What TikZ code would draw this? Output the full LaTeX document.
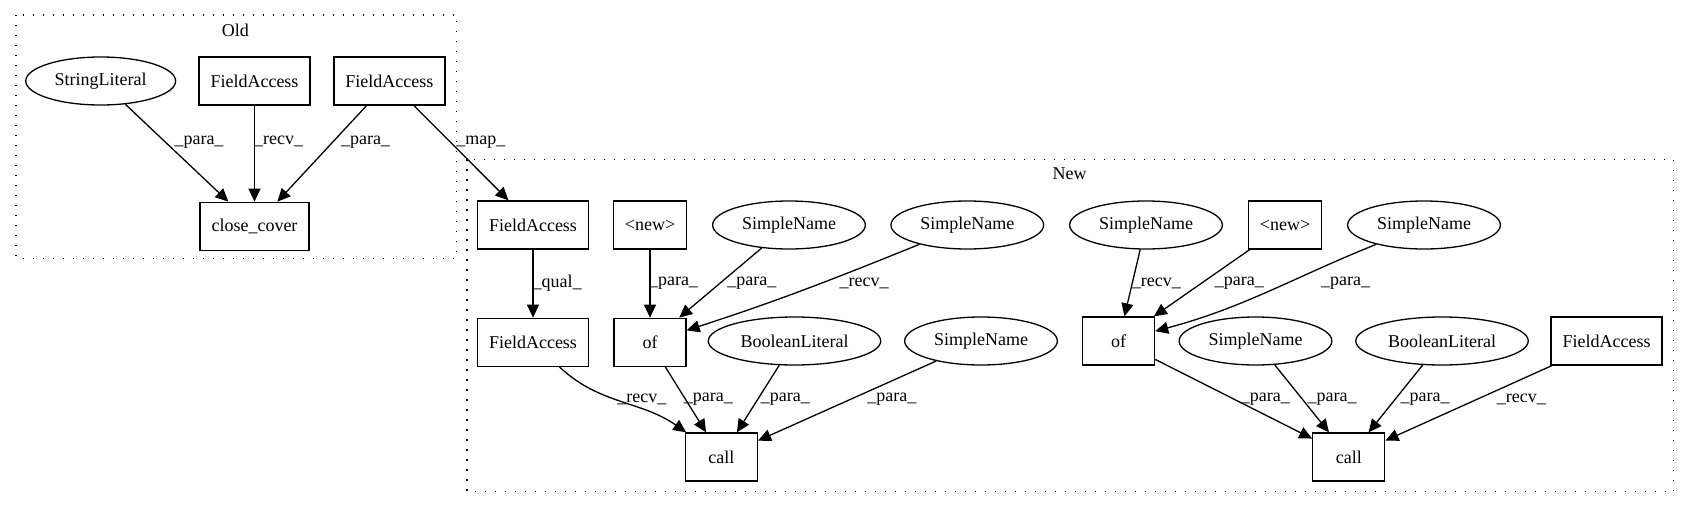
\documentclass[tikz,border=0pt]{standalone}
\usepackage{fontspec}
\setmainfont{Liberation Serif}
\usepackage{tikz}
\usetikzlibrary{arrows.meta,positioning,shapes.geometric}

\begin{document}
\begin{tikzpicture}[
  x=1pt,y=-1pt,
  line width=1.3pt,
  font=\fontsize{18}{21}\selectfont,
  node distance=68pt,
  box/.style={draw,rectangle,inner xsep=11.5pt,minimum width=72pt,minimum height=48pt},
  oval/.style={draw,ellipse,inner xsep=7pt,minimum height=48pt},
  arr/.style={-{Triangle[length=13pt,width=12pt]}},
  lbl/.style={inner sep=0pt},
  cluster/.style={dash pattern=on 1.3pt off 8.7pt}
]
\useasboundingbox (0,0) rectangle (1689,508);

% Old
\draw[cluster] (16,15) rectangle (456.6,258.3);
\node (old) at (235.4,30.7) {Old};
\node[oval] (strlit) at (100.7,81) {StringLiteral};
\node[box] (faccold) at (254.5,81) {FieldAccess};
\node[box] (faccmap) at (389.4,81) {FieldAccess};
\node[box,below=96pt of faccold] (close) {close\_cover};

% New
\draw[cluster] (467,159.3) rectangle (1673.7,491.7);
\node (new) at (1069.5,174) {New};
\node[box] (faqual) at (533,225) {FieldAccess};
\node[box] (newa) at (650,225) {<new>};
\node[oval] (sna) at (789,225) {SimpleName};
\node[oval] (snb) at (967.3,225) {SimpleName};
\node[oval] (snc) at (1146,225) {SimpleName};
\node[box] (newb) at (1285,225) {<new>};
\node[oval] (snd) at (1424,225) {SimpleName};

\node[box,below=of faqual] (fab) {FieldAccess};
\node[box,below=of newa] (ofa) {of};
\node[oval] (bla) at (794.5,341) {BooleanLiteral};
\node[oval] (sne) at (981,341) {SimpleName};
\node[box] (ofb) at (1118.6,341) {of};
\node[oval] (snf) at (1255.5,341) {SimpleName};
\node[oval] (blb) at (1442,341) {BooleanLiteral};
\node[box] (fac) at (1606.5,341) {FieldAccess};

\node[box] (calla) at (721.4,457) {call};
\node[box] (callb) at (1348.8,457) {call};

% edges
\draw[arr] (strlit) -- (close);
\draw[arr] (faccold) -- (close);
\draw[arr] (faccmap) -- (close);
\draw[arr] (faccmap) -- (faqual);
\draw[arr] (faqual) -- (fab);
\draw[arr] (newa) -- (ofa);
\draw[arr] (sna) -- (ofa);
\draw[arr] (snb) to[out=-158,in=18] (ofa);
\draw[arr] (fab) to[out=-43,in=145] (calla);
\draw[arr] (ofa) -- (calla);
\draw[arr] (bla) -- (calla);
\draw[arr] (sne) -- (calla);
\draw[arr] (snc) -- (ofb);
\draw[arr] (newb) -- (ofb);
\draw[arr] (snd) to[out=-158,in=15] (ofb);
\draw[arr] (ofb) -- (callb);
\draw[arr] (snf) -- (callb);
\draw[arr] (blb) -- (callb);
\draw[arr] (fac) -- (callb);

% edge labels
\node[lbl] (l1) at (199,141.7) {\_para\_};
\node[lbl] (l2) at (278.6,141.7) {\_recv\_};
\node[lbl] (l3) at (365.5,141.7) {\_para\_};
\node[lbl] (l4) at (480.8,141.7) {\_map\_};
\node[lbl] (l5) at (557,283.3) {\_qual\_};
\node[lbl] (l6) at (673.5,283.3) {\_para\_};
\node[lbl] (l7) at (751.8,283.3) {\_para\_};
\node[lbl] (l8) at (864,283.3) {\_recv\_};
\node[lbl] (l9) at (1156.3,283.3) {\_recv\_};
\node[lbl] (l10) at (1239.3,283.3) {\_para\_};
\node[lbl] (l11) at (1345.6,283.3) {\_para\_};
\node[lbl] (l12) at (641.9,399.3) {\_recv\_};
\node[lbl] (l13) at (708.3,399.3) {\_para\_};
\node[lbl] (l14) at (785.4,399.3) {\_para\_};
\node[lbl] (l15) at (891.8,399.3) {\_para\_};
\node[lbl] (l16) at (1265.4,399.3) {\_para\_};
\node[lbl] (l17) at (1332,399.3) {\_para\_};
\node[lbl] (l18) at (1425,399.3) {\_para\_};
\node[lbl] (l19) at (1521.3,399.3) {\_recv\_};
\end{tikzpicture}
\end{document}
